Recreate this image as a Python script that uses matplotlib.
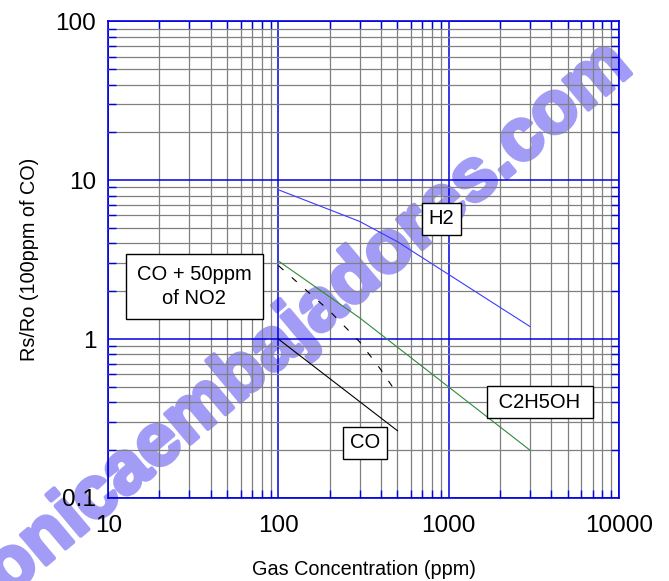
import matplotlib
matplotlib.use("Agg")
import matplotlib.pyplot as plt
import matplotlib.patheffects as pe
from matplotlib.ticker import LogLocator, FixedLocator, FixedFormatter, NullFormatter

plt.rcParams['font.family'] = ['Liberation Sans', 'DejaVu Sans']

# ---- data ----
h2_x = [100, 300, 500, 3000]
h2_y = [8.7, 5.5, 4.1, 1.2]

eth_x = [100, 300, 3000]
eth_y = [3.1, 1.36, 0.2]

co_x = [100, 500]
co_y = [1.0, 0.265]

co_no2_x = [100, 200, 300, 400, 500]
co_no2_y = [2.9, 1.5, 0.96, 0.64, 0.45]

x_ticks = [10, 100, 1000, 10000]
x_tick_labels = ['10', '100', '1000', '10000']
y_ticks = [0.1, 1, 10, 100]
y_tick_labels = ['0.1', '1', '10', '100']

labels = ["H2", " C2H5OH ", "CO", "CO + 50ppm\nof NO2"]
label_x = [904, 3427, 322, 32]
label_y = [5.71, 0.400, 0.222, 2.14]
label_pad = [0.32, 0.32, 0.32, 0.55]

BLUE = '#0000e0'
GRAY = '#808080'
WM = '#a29cf6'

fig = plt.figure(figsize=(6.69, 5.81), dpi=100)
ax = fig.add_axes([108.2 / 669, 1 - 498 / 581, (619 - 108.2) / 669, (498 - 21.3) / 581])
ax.set_facecolor('none')
ax.set_xscale('log')
ax.set_yscale('log')
ax.set_xlim(10, 10000)
ax.set_ylim(0.1, 100)

for axis, ticks, tl in ((ax.xaxis, x_ticks, x_tick_labels), (ax.yaxis, y_ticks, y_tick_labels)):
    axis.set_major_locator(FixedLocator(ticks))
    axis.set_major_formatter(FixedFormatter(tl))
    axis.set_minor_locator(LogLocator(base=10, subs=range(2, 10), numticks=20))
    axis.set_minor_formatter(NullFormatter())

ax.grid(True, which='minor', color=GRAY, linewidth=0.9)
ax.grid(True, which='major', color=BLUE, linewidth=1.1)
ax.tick_params(which='major', length=0, labelsize=17.5)
ax.tick_params(axis='x', which='major', pad=12.5)
ax.tick_params(axis='y', which='major', pad=8.6)
ax.tick_params(which='minor', direction='in', length=5.5, width=1.0, color=BLUE,
               top=True, right=True, bottom=True, left=True)
for s in ax.spines.values():
    s.set_color(BLUE)
    s.set_linewidth(1.2)
ax.set_axisbelow(False)

ax.plot(h2_x, h2_y, color='#3a3aff', lw=0.8, zorder=3)
ax.plot(eth_x, eth_y, color='#2f8a3a', lw=0.8, zorder=3)
ax.plot(co_x, co_y, color='black', lw=0.8, zorder=3)
ax.plot(co_no2_x, co_no2_y, color='black', lw=0.8, dashes=(6, 10), zorder=3)

for t, lx, ly, p in zip(labels, label_x, label_y, label_pad):
    ax.text(lx, ly, t, ha='center', va='center', fontsize=14.5, linespacing=1.3, zorder=5,
            bbox=dict(boxstyle='square,pad=%g' % p, facecolor='white', edgecolor='black', linewidth=1.0))

ax.set_xlabel('Gas Concentration (ppm)', fontsize=14.3, labelpad=16)
ax.set_ylabel('Rs/Ro (100ppm of CO)', fontsize=14.3, labelpad=12)

# watermark (drawn beneath the grid, like in the reference)
fig.text(622 / 669, 1 - 56 / 581, 'onicaembajadores.com', fontsize=53, fontweight='bold',
         color=WM, rotation=40, rotation_mode='anchor',
         ha='right', va='center', zorder=-1,
         path_effects=[pe.withStroke(linewidth=3, foreground=WM)])

fig.savefig('out.png', dpi=100, facecolor='white')
